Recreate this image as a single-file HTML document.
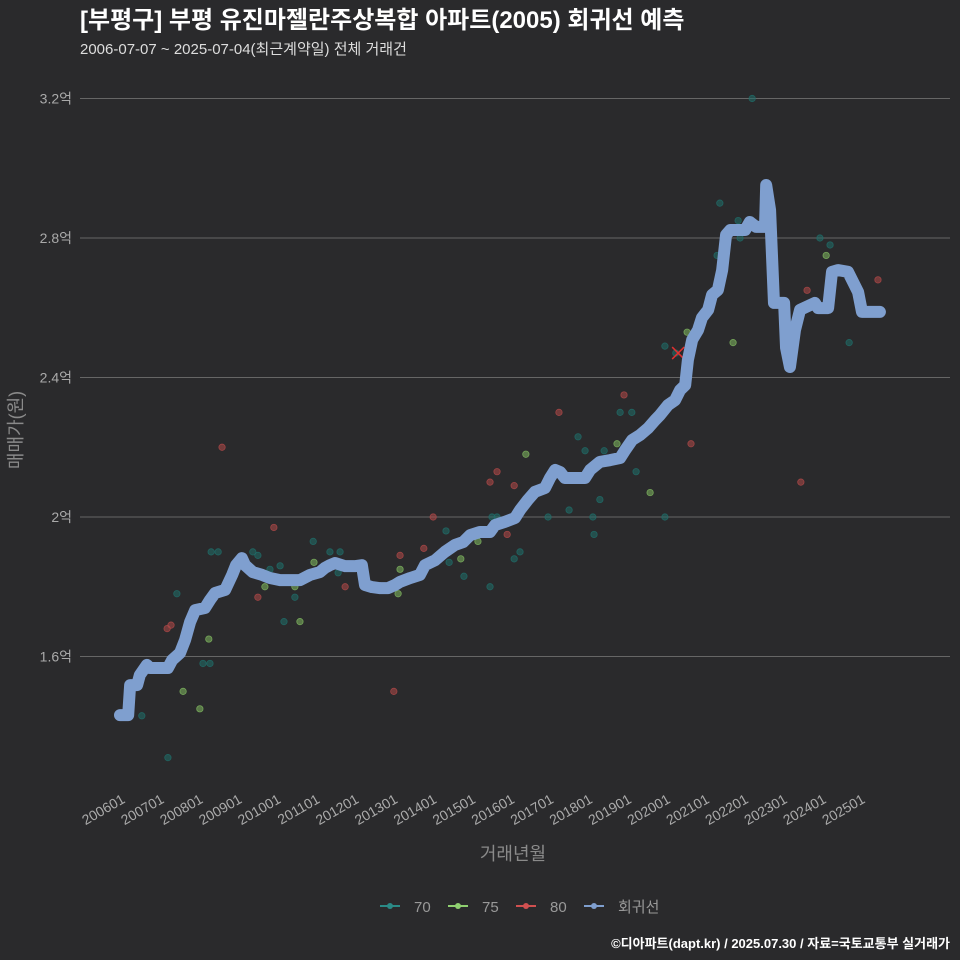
<!DOCTYPE html>
<html><head><meta charset="utf-8"><style>
html,body{margin:0;padding:0;background:#2a2a2c;overflow:hidden;width:960px;height:960px;}
svg{display:block;}
svg text{font-family:"Liberation Sans","Noto Sans CJK KR",sans-serif;}
</style></head><body>
<svg id="c" width="960" height="960" viewBox="0 0 960 960" xmlns="http://www.w3.org/2000/svg">
<rect width="960" height="960" fill="#2a2a2c"/>
<text x="80" y="28" fill="#ffffff" font-size="24" font-weight="bold">[부평구] 부평 유진마젤란주상복합 아파트(2005) 회귀선 예측</text>
<text x="80" y="54" fill="#dddddd" font-size="15">2006-07-07 ~ 2025-07-04(최근계약일) 전체 거래건</text>
<g id="grid"></g>
<g id="pts"></g>
<g id="reg"></g>
<g id="xt"></g>
<text x="513" y="860" fill="#8a8a8a" font-size="18" text-anchor="middle">거래년월</text>
<text transform="translate(22,430) rotate(-90)" fill="#8a8a8a" font-size="18" text-anchor="middle">매매가(원)</text>
<g>
<g><line x1="380" y1="906" x2="400" y2="906" stroke="#2a8a86" stroke-width="2"/><circle cx="390" cy="906" r="3" fill="#2a8a86"/><text x="414" y="912" fill="#999" font-size="15">70</text></g>
<g><line x1="448" y1="906" x2="468" y2="906" stroke="#8fd070" stroke-width="2"/><circle cx="458" cy="906" r="3" fill="#8fd070"/><text x="482" y="912" fill="#999" font-size="15">75</text></g>
<g><line x1="516" y1="906" x2="536" y2="906" stroke="#d05050" stroke-width="2"/><circle cx="526" cy="906" r="3" fill="#d05050"/><text x="550" y="912" fill="#999" font-size="15">80</text></g>
<g><line x1="584" y1="906" x2="604" y2="906" stroke="#7f9fcf" stroke-width="2"/><circle cx="594" cy="906" r="3" fill="#7f9fcf"/><text x="618" y="912" fill="#999" font-size="15">회귀선</text></g>
</g>
<text x="950" y="948" fill="#ffffff" font-size="13" font-weight="bold" text-anchor="end">©디아파트(dapt.kr) / 2025.07.30 / 자료=국토교통부 실거래가</text>
</svg>
<script>
const yTicks=[1.6,2.0,2.4,2.8,3.2];
const yTickLabels=["1.6억","2억","2.4억","2.8억","3.2억"];
const xTicks=[2006,2007,2008,2009,2010,2011,2012,2013,2014,2015,2016,2017,2018,2019,2020,2021,2022,2023,2024,2025];
const xTickLabels=["200601","200701","200801","200901","201001","201101","201201","201301","201401","201501","201601","201701","201801","201901","202001","202101","202201","202301","202401","202501"];
const t70=[2006.56,2007.23,2007.46,2008.34,2008.52,2008.13,2008.31,2009.41,2009.54,2009.85,2010.11,2010.49,2010.21,2010.96,2011.39,2011.65,2011.60,2014.37,2014.45,2014.83,2015.50,2015.55,2015.68,2016.12,2016.27,2016.99,2017.17,2017.53,2017.68,2017.76,2017.94,2018.14,2018.17,2018.32,2018.43,2018.84,2019.14,2019.25,2019.99,2019.99,2020.27,2021.40,2021.33,2021.87,2021.92,2022.23,2023.97,2024.23,2024.72];
const v70=[1.43,1.31,1.78,1.90,1.90,1.58,1.58,1.90,1.89,1.85,1.86,1.77,1.70,1.93,1.90,1.90,1.84,1.96,1.87,1.83,1.80,2.00,2.00,1.88,1.90,2.00,2.12,2.02,2.11,2.23,2.19,2.00,1.95,2.05,2.19,2.30,2.30,2.13,2.00,2.49,2.47,2.90,2.75,2.85,2.80,3.20,2.80,2.78,2.50];
const t75=[2008.05,2007.62,2008.28,2009.72,2010.62,2010.49,2010.98,2013.14,2013.19,2014.75,2015.19,2016.42,2018.76,2019.61,2020.56,2021.74,2024.13];
const v75=[1.45,1.50,1.65,1.80,1.70,1.80,1.87,1.78,1.85,1.88,1.93,2.18,2.21,2.07,2.53,2.50,2.75];
const t80=[2007.21,2007.31,2008.62,2009.54,2009.95,2011.78,2013.03,2013.19,2013.80,2014.04,2015.50,2015.68,2015.94,2016.12,2017.27,2018.94,2020.66,2023.48,2023.64,2025.46];
const v80=[1.68,1.69,2.20,1.77,1.97,1.80,1.50,1.89,1.91,2.00,2.10,2.13,1.95,2.09,2.30,2.35,2.21,2.10,2.65,2.68];
const latestT=[2020.33];
const latestV=[2.47];
const regT=[2006.00,2006.21,2006.26,2006.44,2006.51,2006.69,2006.77,2007.23,2007.34,2007.54,2007.67,2007.80,2007.93,2008.18,2008.31,2008.44,2008.70,2008.88,2008.98,2009.13,2009.21,2009.41,2009.65,2009.85,2010.11,2010.36,2010.62,2010.88,2011.13,2011.26,2011.39,2011.52,2011.78,2012.03,2012.21,2012.29,2012.47,2012.68,2012.88,2013.06,2013.19,2013.45,2013.70,2013.83,2014.09,2014.34,2014.60,2014.81,2014.99,2015.24,2015.50,2015.63,2015.88,2016.14,2016.27,2016.47,2016.65,2016.91,2017.04,2017.17,2017.30,2017.42,2017.68,2017.94,2018.07,2018.32,2018.58,2018.84,2018.97,2019.15,2019.35,2019.56,2019.74,2019.86,2020.07,2020.25,2020.38,2020.51,2020.58,2020.69,2020.84,2020.94,2021.10,2021.20,2021.35,2021.46,2021.56,2021.67,2022.05,2022.17,2022.33,2022.56,2022.59,2022.69,2022.79,2023.05,2023.10,2023.20,2023.33,2023.46,2023.84,2023.92,2024.18,2024.28,2024.43,2024.69,2024.82,2024.95,2025.05,2025.51];
const regV=[1.432,1.432,1.518,1.518,1.547,1.576,1.567,1.567,1.590,1.610,1.647,1.699,1.733,1.739,1.762,1.782,1.791,1.834,1.862,1.882,1.862,1.842,1.834,1.825,1.819,1.819,1.819,1.834,1.842,1.854,1.862,1.868,1.859,1.859,1.862,1.805,1.799,1.796,1.796,1.805,1.814,1.825,1.834,1.862,1.876,1.900,1.920,1.928,1.948,1.957,1.957,1.977,1.986,1.997,2.020,2.049,2.072,2.083,2.112,2.135,2.129,2.112,2.112,2.112,2.135,2.158,2.163,2.169,2.192,2.221,2.235,2.255,2.278,2.292,2.321,2.335,2.364,2.378,2.450,2.508,2.536,2.571,2.594,2.637,2.651,2.708,2.809,2.823,2.823,2.846,2.832,2.832,2.952,2.880,2.614,2.614,2.485,2.430,2.536,2.594,2.614,2.599,2.599,2.703,2.708,2.703,2.674,2.645,2.588,2.588];

const NS="http://www.w3.org/2000/svg";
const X0=80,X1=950;
function sx(t){return 120+(t-2006)*38.95;}
function sy(v){return 517-(v-2)*348.75;}
function mk(tag,attrs,parent){const e=document.createElementNS(NS,tag);for(const k in attrs)e.setAttribute(k,attrs[k]);parent.appendChild(e);return e;}
const grid=document.getElementById('grid');
yTicks.forEach((v,i)=>{
  const l=mk('line',{x1:X0,x2:X1,y1:sy(v),y2:sy(v),stroke:'#666',"stroke-width":1},grid);
  
  
  const t=mk('text',{x:72,y:sy(v)+5,fill:'#aaa',"font-size":14,"text-anchor":"end"},grid);
  t.textContent=yTickLabels[i];
  
  
});
const xt=document.getElementById('xt');
xTicks.forEach((v,i)=>{
  const x=sx(v);
  const t=mk('text',{x:0,y:0,fill:'#aaa',"font-size":14,"text-anchor":"end",transform:`translate(${x+6},${802}) rotate(-30)`},xt);
  t.textContent=xTickLabels[i];
  
  
});
const pts=document.getElementById('pts');
function dots(T,V,col,name){T.forEach((t,i)=>{
  const c=mk('circle',{cx:sx(t),cy:sy(V[i]),r:3.2,fill:col,"fill-opacity":0.55,stroke:col,"stroke-opacity":0.8,"stroke-width":0.8},pts);
  
  
});}
dots(t70,v70,'#1f6e6a','point-70');
dots(t75,v75,'#7fb860','point-75');
dots(t80,v80,'#b04848','point-80');
latestT.forEach((t,i)=>{
  const x=sx(t),y=sy(latestV[i]);
  const g=mk('path',{d:`M${x-6},${y-6}L${x+6},${y+6}M${x-6},${y+6}L${x+6},${y-6}`,stroke:'#e03030',"stroke-width":1.5},pts);
  
  
});
const reg=document.getElementById('reg');
const p=mk('polyline',{points:regT.map((t,i)=>sx(t)+','+sy(regV[i])).join(' '),fill:'none',stroke:'#7f9fcf',"stroke-width":12,"stroke-linejoin":"round","stroke-linecap":"round"},reg);


</script>
</body></html>
